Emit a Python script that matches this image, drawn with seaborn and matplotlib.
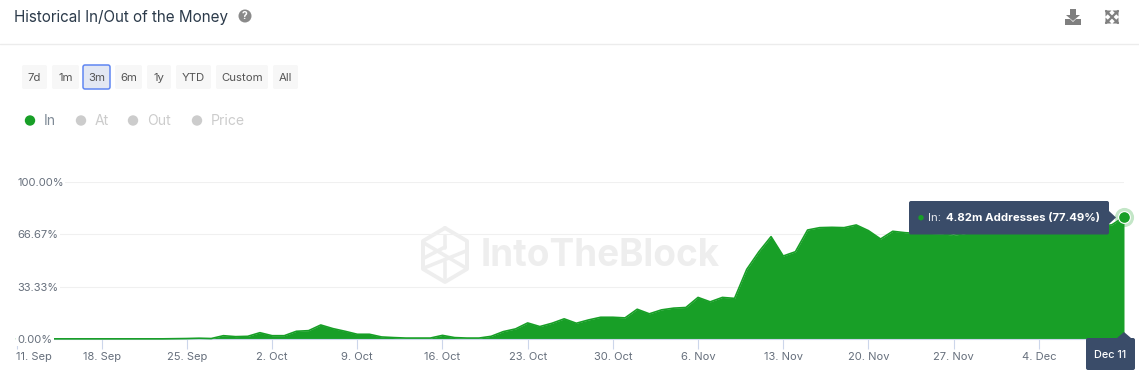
import matplotlib

matplotlib.use("Agg")
import matplotlib.dates as mdates
import matplotlib.pyplot as plt
import pandas as pd
import seaborn as sns
from matplotlib.patches import Circle, FancyBboxPatch, Polygon

start_date = "2023-09-11"
end_date = "2023-12-11"
in_money_pct = [
    0.1, 0.1, 0.1, 0.1, 0.1, 0.1, 0.1, 0.1, 0.1, 0.1, 0.1, 0.1, 0.1, 0.2,
    0.3, 0.5, 0.3, 2.1, 1.5, 1.7, 4.0, 2.1, 2.1, 4.9, 5.3, 8.9, 6.6, 4.9,
    3.0, 3.0, 1.3, 0.9, 0.6, 0.6, 0.6, 2.3, 0.9, 0.6, 0.6, 1.7, 4.7, 6.4,
    10.2, 7.9, 10.0, 12.8, 10.0, 12.1, 13.8, 13.8, 13.4, 18.9, 16.0, 18.5,
    19.6, 20.0, 26.4, 23.6, 26.4, 25.8, 44.2, 55.4, 65.0, 52.7, 55.4, 69.2,
    70.7, 70.9, 70.7, 72.4, 68.8, 63.5, 68.4, 67.5, 67.0, 67.0, 66.8, 65.9,
    67.0, 67.5, 68.0, 68.5, 68.0, 69.0, 69.0, 70.0, 70.0, 70.5, 71.0, 71.5,
    72.5, 77.49,
]
y_ticks = [0, 33.33, 66.67, 100]
y_labels = ["0.00%", "33.33%", "66.67%", "100.00%"]
range_buttons = ["7d", "1m", "3m", "6m", "1y", "YTD", "Custom", "All"]
legend_names = ["In", "At", "Out", "Price"]

GREEN = "#189f27"
NAVY = "#3a4c69"
W, H = 1139, 376

sns.set_theme(style="white")
plt.rcParams["font.family"] = ["Inter", "DejaVu Sans"]

df = pd.DataFrame(
    {"date": pd.date_range(start_date, end_date, freq="D"), "pct": in_money_pct}
)

fig = plt.figure(figsize=(W / 100, H / 100), dpi=100, facecolor="white")

# pixel-coordinate layers for the page furniture
bg = fig.add_axes([0, 0, 1, 1], zorder=0)
fg = fig.add_axes([0, 0, 1, 1], zorder=2)
for layer in (bg, fg):
    layer.set_xlim(0, W)
    layer.set_ylim(H, 0)
    layer.axis("off")
    layer.patch.set_alpha(0)

bg.text(14, 17.8, "Historical In/Out of the Money", fontsize=10.95, color="#2b3a4a", va="center")
bg.add_patch(Circle((245, 16), 6.5, color="#8a8a8a", lw=0))
bg.text(245, 16.3, "?", fontsize=7.5, fontweight="bold", color="white", ha="center", va="center")
bg.plot([0, W], [44, 44], color="#ececec", lw=1)

# download icon
bg.add_patch(Polygon([(1070, 9), (1076, 9), (1076, 15), (1080, 15), (1073, 21), (1066, 15), (1070, 15)], color="#7f7f7f", lw=0))
bg.add_patch(Polygon([(1065, 19), (1070, 19), (1073, 22), (1076, 19), (1081, 19), (1081, 25), (1065, 25)], color="#7f7f7f", lw=0))
# expand icon
for x0, y0, x1, y1 in [(1106, 11, 1118, 23), (1118, 11, 1106, 23)]:
    bg.plot([x0, x1], [y0, y1], color="#7f7f7f", lw=1.6)
for cx, cy, dx, dy in [(1105.5, 10.5, 1, 1), (1118.5, 10.5, -1, 1), (1105.5, 23.5, 1, -1), (1118.5, 23.5, -1, -1)]:
    bg.add_patch(Polygon([(cx, cy), (cx + 6 * dx, cy), (cx, cy + 6 * dy)], color="#7f7f7f", lw=0))

# range selector
button_edges = [(22, 47), (52, 79), (83, 110), (115, 142), (147, 171), (176, 211), (216, 268), (273, 298)]
for name, (x0, x1) in zip(range_buttons, button_edges):
    active = name == "3m"
    bg.add_patch(
        FancyBboxPatch(
            (x0, 65), x1 - x0, 24,
            boxstyle="round,pad=0,rounding_size=2",
            facecolor="#e2e7f3" if active else "#f7f7f7",
            edgecolor="#5f86f2" if active else "none",
            lw=1.1,
        )
    )
    bg.text((x0 + x1) / 2, 78.3, name, fontsize=8.2, color="#555555", ha="center", va="center")

# legend
legend_x = [30, 81, 133, 197]
for i, (name, x) in enumerate(zip(legend_names, legend_x)):
    bg.add_patch(Circle((x, 120.5), 5.2, color=GREEN if i == 0 else "#cccccc", lw=0))
    bg.text(x + 14, 121, name, fontsize=10.1, color="#7f8a96" if i == 0 else "#cccccc", va="center")

# watermark
wm = "#eeeeee"
hexagon = [(445, 228), (467, 241), (467, 269), (445, 282), (423, 269), (423, 241), (445, 228)]
bg.plot(*zip(*hexagon), color=wm, lw=2.8)
for x0, y0, x1, y1 in [
    (424, 243, 466, 268),
    (424, 258, 445, 247),
    (424, 268, 466, 251),
    (445, 236, 445, 248),
    (445, 262, 445, 278),
]:
    bg.plot([x0, x1], [y0, y1], color=wm, lw=2.6)
bg.text(481, 256, "IntoTheBlock", fontsize=26.6, fontweight="bold", color=wm, va="center")

# chart
ax = fig.add_axes(
    [16.5 / W, (H - 339) / H, (1124 - 16.5) / W, 157.5 / H], zorder=1
)
ax.patch.set_alpha(0)
ax.hlines(y_ticks[1:], df["date"].iloc[0], df["date"].iloc[-1], color="#f0f0f0", lw=0.8, zorder=1)
ax.fill_between(df["date"], df["pct"], 0, color=GREEN, lw=0, zorder=2)
sns.lineplot(data=df, x="date", y="pct", color=GREEN, lw=1.2, ax=ax, zorder=3, clip_on=False)
sns.scatterplot(
    data=df.tail(1), x="date", y="pct", color=GREEN, s=190, alpha=0.26, lw=0,
    ax=ax, zorder=5, clip_on=False, legend=False,
)
sns.scatterplot(
    data=df.tail(1), x="date", y="pct", color=GREEN, s=72, edgecolor="white", lw=0.8,
    ax=ax, zorder=6, clip_on=False, legend=False,
)

ax.set_xlim(df["date"].iloc[0], df["date"].iloc[-1])
ax.set_ylim(0, 100)
ax.set_xlabel("")
ax.set_ylabel("")
ax.set_xticks(df["date"].iloc[::7])
ax.xaxis.set_major_formatter(mdates.DateFormatter("%-d. %b"))
ax.tick_params(axis="x", bottom=True, length=7.5, width=0.8, color="#ccd6eb", labelsize=8.0, labelcolor="#666f7c", pad=2)
plt.setp(ax.get_xticklabels()[0], ha="left")
# last tick label sits under the date flag
ax.get_xticklabels()[-1].set_visible(False)

ax.set_yticks(y_ticks, y_labels)
ax.tick_params(axis="y", left=False, length=0, pad=-0.5, labelsize=8.0, labelcolor="#666f7c")
for label in ax.get_yticklabels():
    label.set_ha("left")
    label.set_bbox({"facecolor": "white", "edgecolor": "none", "pad": 1})
# y labels knock out the baseline, as in the page
ax.yaxis.set_zorder(4)
ax.xaxis.set_zorder(0.5)
sns.despine(ax=ax, left=True, right=True, top=True)
ax.spines["bottom"].set_color("#ccd6eb")
ax.spines["bottom"].set_linewidth(0.8)

# tooltips
fg.add_patch(FancyBboxPatch((909, 201), 200, 33.5, boxstyle="round,pad=0,rounding_size=2", facecolor=NAVY, edgecolor="none"))
fg.add_patch(Polygon([(1109, 211), (1116, 217.5), (1109, 224)], color=NAVY, lw=0))
fg.add_patch(Circle((921, 217.7), 2.7, color=GREEN, lw=0))
fg.text(928, 217.7, "In:", fontsize=8.2, color="#e6e9ee", va="center")
fg.text(945.5, 217.7, "4.82m Addresses (77.49%)", fontsize=8.2, fontweight="bold", color="white", va="center")

fg.add_patch(FancyBboxPatch((1086, 338), 49, 32, boxstyle="round,pad=0,rounding_size=2", facecolor=NAVY, edgecolor="none"))
fg.add_patch(Polygon([(1117, 338), (1124, 332), (1131, 338)], color=NAVY, lw=0))
fg.text(1110, 354.5, "Dec 11", fontsize=7.8, fontweight="medium", color="white", ha="center", va="center")

fig.savefig("out.png", dpi=100)
